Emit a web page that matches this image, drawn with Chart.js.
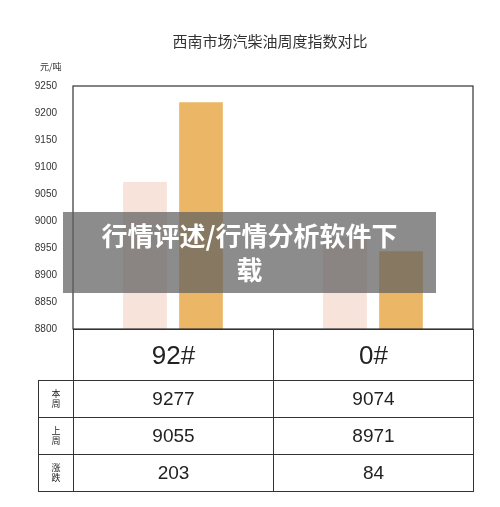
<!DOCTYPE html>
<html><head><meta charset="utf-8">
<script src="https://cdn.jsdelivr.net/npm/chart.js@4/dist/chart.umd.min.js"></script>
<style>
body{margin:0;background:#fff;font-family:"Noto Sans CJK SC",sans-serif;}
#wrap{position:absolute;left:0;top:0;width:500px;height:507px;}
table{position:absolute;left:38px;top:329px;border-collapse:collapse;font-family:Arial,"Liberation Sans",sans-serif;color:#222;}
td{border:1px solid #333;text-align:center;padding:0;}
.lab{width:34px;font-family:"Noto Sans CJK SC";font-size:9px;line-height:10px;}
.v{width:199px;font-size:19px;}
#banner{position:absolute;left:63px;top:212px;width:373px;height:81px;background:rgba(95,95,95,0.72);color:#fff;font-weight:bold;font-size:26px;font-family:"Noto Sans CJK SC";text-align:center;line-height:34px;padding-top:6px;box-sizing:border-box;}
#title{position:absolute;left:0;width:540px;top:30px;text-align:center;font-size:15px;color:#333;}
#unit{position:absolute;left:40px;top:60px;font-size:9px;color:#333;}
</style></head><body>
<div id="wrap"><canvas id="c" width="500" height="507"></canvas></div>
<div id="title">西南市场汽柴油周度指数对比</div>
<div id="unit">元/吨</div>
<table>
<tr style="height:51px"><td style="border-top:none;border-left:none;border-bottom:none"></td><td class="v" style="font-size:26px">92#</td><td class="v" style="font-size:26px">0#</td></tr>
<tr style="height:37px"><td class="lab">本<br>周</td><td class="v">9277</td><td class="v">9074</td></tr>
<tr style="height:37px"><td class="lab">上<br>周</td><td class="v">9055</td><td class="v">8971</td></tr>
<tr style="height:37px"><td class="lab">涨<br>跌</td><td class="v">203</td><td class="v">84</td></tr>
</table>
<div id="banner">行情评述/行情分析软件下<br>载</div>
<script>
const categories=["92#","0#"];
const lastWeek=[9072,8970];
const thisWeek=[9220,8944];
const yTicks=[8800,8850,8900,8950,9000,9050,9100,9150,9200,9250];
const boxPlugin={id:'box',afterDraw(ch){const a=ch.chartArea,c=ch.ctx;c.save();c.strokeStyle='#333';c.lineWidth=1.2;c.strokeRect(a.left,a.top,a.right-a.left,a.bottom-a.top);c.restore();}};
new Chart(document.getElementById('c'),{type:'bar',
data:{labels:categories,datasets:[
{data:lastWeek,backgroundColor:'#f7e3da',barPercentage:0.78,categoryPercentage:0.56},
{data:thisWeek,backgroundColor:'#ebb767',barPercentage:0.78,categoryPercentage:0.56}]},
options:{responsive:false,animation:false,layout:{padding:{left:0,right:27,top:86,bottom:178}},
plugins:{legend:{display:false},tooltip:{enabled:false}},
scales:{x:{display:false},
y:{min:8800,max:9250,afterBuildTicks:s=>{s.ticks=yTicks.map(v=>({value:v}));},afterFit:s=>{s.width=73;},
grid:{display:false},border:{display:false},ticks:{color:'#333',font:{size:10,family:'Arial'},padding:8,callback:v=>String(v)}}}},
plugins:[boxPlugin]});
</script></body></html>
